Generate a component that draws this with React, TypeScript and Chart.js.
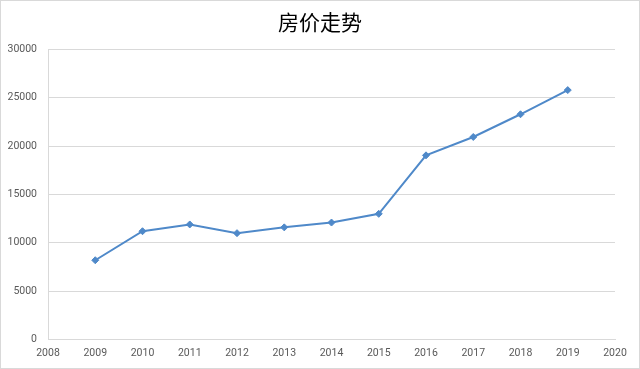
import React, { useEffect, useRef } from "react";
import { Chart, registerables } from "chart.js";

Chart.register(...registerables);

const years = [2009, 2010, 2011, 2012, 2013, 2014, 2015, 2016, 2017, 2018, 2019];
const prices = [8200, 11200, 11900, 11000, 11600, 12100, 13000, 19050, 20950, 23300, 25800];
const xMin = 2008;
const xMax = 2020;
const yMin = 0;
const yMax = 30000;
const yStep = 5000;
const titleText = "房价走势";

const borderPlugin = {
  id: "outerBorder",
  afterDraw(chart: any) {
    const ctx = chart.ctx;
    ctx.save();
    ctx.strokeStyle = "#d9d9d9";
    ctx.lineWidth = 1;
    ctx.strokeRect(0.5, 0.5, chart.width - 1, chart.height - 1);
    ctx.restore();
  },
};

export default function App() {
  const ref = useRef<HTMLCanvasElement | null>(null);
  useEffect(() => {
    document.body.style.margin = "0";
    const canvas = ref.current;
    if (!canvas) return;
    const chart = new Chart(canvas, {
      type: "line",
      data: {
        datasets: [
          {
            label: titleText,
            data: years.map((y, i) => ({ x: y, y: prices[i] })),
            borderColor: "#4f89c9",
            backgroundColor: "#4f89c9",
            borderWidth: 2,
            pointStyle: "rectRot",
            pointRadius: 3.5,
            pointBorderWidth: 1,
            tension: 0,
            yAxisID: "y",
          },
        ],
      },
      plugins: [borderPlugin],
      options: {
        animation: false,
        responsive: false,
        maintainAspectRatio: false,
        layout: { padding: 0 },
        plugins: {
          legend: { display: false },
          tooltip: { enabled: false },
          title: {
            display: true,
            text: titleText,
            color: "#000000",
            font: { family: "'Noto Sans CJK SC', sans-serif", size: 21, weight: "normal", lineHeight: 1.2 },
            padding: { top: 9.5, bottom: 14.8 },
          },
        },
        scales: {
          x: {
            type: "linear",
            min: xMin,
            max: xMax,
            ticks: {
              stepSize: 1,
              color: "#595959",
              font: { family: "Roboto, sans-serif", size: 10.5 },
              padding: 8,
              maxRotation: 0,
              autoSkip: false,
              callback: (v: any) => String(v),
            },
            grid: { display: false, drawTicks: false },
            border: { display: true, color: "#d9d9d9", width: 1 },
            afterFit: (s: any) => {
              s.height = 29.5;
            },
          },
          y: {
            min: yMin,
            max: yMax,
            ticks: {
              stepSize: yStep,
              color: "#595959",
              font: { family: "Roboto, sans-serif", size: 10.5 },
              padding: 11,
              callback: (v: any) => String(v),
            },
            grid: { color: "#d9d9d9", drawTicks: false },
            border: { display: true, color: "#d9d9d9", width: 1 },
            afterFit: (s: any) => {
              s.width = 48;
            },
          },
          yRight: {
            position: "right",
            min: yMin,
            max: yMax,
            ticks: { display: false },
            grid: { display: false, drawTicks: false },
            border: { display: false },
            afterFit: (s: any) => {
              s.width = 25;
            },
          },
        },
      },
    });
    return () => chart.destroy();
  }, []);
  return (
    <div style={{ position: "absolute", left: 0, top: 0, width: 640, height: 369 }}>
      <canvas ref={ref} width={640} height={369} style={{ width: 640, height: 369, display: "block" }} />
    </div>
  );
}
